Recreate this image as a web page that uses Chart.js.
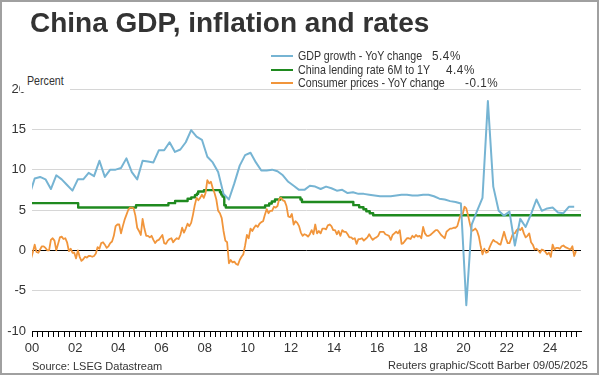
<!DOCTYPE html>
<html>
<head>
<meta charset="utf-8">
<script src="https://cdn.jsdelivr.net/npm/chart.js@4/dist/chart.umd.min.js"></script>
<style>
  body { margin: 0; background: #fff; }
  #wrap { position: relative; width: 600px; height: 376px; overflow: hidden; }
  #chart { position: absolute; left: 0; top: 0; }
  .txt { position: absolute; white-space: pre; color: #333; font-family: 'Liberation Sans', Arial, sans-serif; }
  #title { left: 30px; top: 9px; font-size: 28px; line-height: 28px; font-weight: bold; color: #333; }
  .narrow { font-size: 13px; line-height: 13px; transform: scaleX(0.82); transform-origin: 0 0; }
  .value { font-size: 13px; line-height: 13px; transform: scaleX(0.9); transform-origin: 0 0; letter-spacing: 0.6px; }
  .swatch { position: absolute; left: 271px; width: 22px; height: 0; }
  #percentBox { position: absolute; left: 20px; top: 70px; width: 50px; height: 22px; background: #fff; }
  #source { left: 32px; top: 361px; font-size: 11px; line-height: 11px; }
  #credit { right: 12px; top: 360px; font-size: 11px; line-height: 11px; }
  #frame { position: absolute; left: 0; top: 0; width: 599px; height: 375px; box-sizing: border-box; border: 2px solid #a0a0a0; pointer-events: none; }
</style>
</head>
<body>
<div id="wrap">
  <canvas id="chart" width="600" height="376"></canvas>
  <div id="percentBox"></div>
  <div class="txt narrow" style="left:27px; top:74px;">Percent</div>
  <div class="txt" id="title">China GDP, inflation and rates</div>
  <div id="legend"></div>
  <div class="txt" id="source">Source: LSEG Datastream</div>
  <div class="txt" id="credit">Reuters graphic/Scott Barber 09/05/2025</div>
  <div id="frame"></div>
</div>
<script>
// series labels and latest readings shown in the legend
const seriesNames = ['GDP growth - YoY change', 'China lending rate 6M to 1Y', 'Consumer prices - YoY change'];
const latestValues = ['5.4%', '4.4%', '-0.1%'];
const seriesColors = ['#76b4d3', '#1f8a1f', '#f1953b'];

// GDP, quarterly YoY %, starting 1999 Q4
const gdpStart = 1999.75;
const gdpValues = [
    6.8,
    8.9, 9.1, 8.8, 7.6,      // 2000
    9.3, 8.8, 8.1, 7.4,      // 2001
    8.8, 8.8, 9.6, 9.2,      // 2002
    11.1, 9.1, 10.0, 10.0,   // 2003
    10.2, 11.4, 9.7, 8.8,    // 2004
    11.1, 11.0, 10.9, 12.4,  // 2005
    12.4, 13.4, 12.2, 12.5,  // 2006
    13.4, 14.9, 14.1, 13.7,  // 2007
    11.6, 10.9, 9.7, 7.0,    // 2008
    6.3, 8.3, 10.5, 11.8,    // 2009
    12.1, 10.9, 9.9, 9.9,    // 2010
    10.0, 9.8, 9.3, 8.5,     // 2011
    8.0, 7.5, 7.5, 8.0,      // 2012
    7.9, 7.6, 7.9, 7.7,      // 2013
    7.4, 7.5, 7.1, 7.2,      // 2014
    7.0, 7.0, 6.9, 6.8,      // 2015
    6.7, 6.7, 6.7, 6.8,      // 2016
    6.9, 6.9, 6.8, 6.8,      // 2017
    6.9, 6.9, 6.7, 6.4,      // 2018
    6.3, 6.1, 6.0, 5.8,      // 2019
    -6.8, 3.2, 4.9, 6.5,     // 2020
    18.5, 7.9, 4.9, 4.3,     // 2021
    4.8, 0.6, 3.9, 2.9,      // 2022
    4.5, 6.3, 4.9, 5.2,      // 2023
    5.3, 4.7, 4.6, 5.4,      // 2024
    5.4                      // 2025
];

// Consumer prices, monthly YoY %, starting Dec 1999
const cpiStart = 1999 + 11 / 12;
const cpiValues = [
    -1.0,
    -0.2, 0.7, -0.2, -0.3, 0.1, 0.5, 0.5, 0.3, 0.0, 0.0, 1.3, 1.5,     // 2000
    1.2, 0.0, 0.8, 1.6, 1.7, 1.4, 1.5, 1.0, -0.1, 0.2, -0.3, -0.3,     // 2001
    -1.0, 0.0, -0.8, -1.3, -1.1, -0.8, -0.9, -0.7, -0.7, -0.8, -0.7, -0.4, // 2002
    0.4, 0.2, 0.9, 1.0, 0.7, 0.3, 0.5, 0.9, 1.1, 1.8, 3.0, 3.2,        // 2003
    3.2, 2.1, 3.0, 3.8, 4.4, 5.0, 5.3, 5.3, 5.2, 4.3, 2.8, 2.4,        // 2004
    1.9, 3.9, 2.7, 1.8, 1.8, 1.6, 1.8, 1.3, 0.9, 1.2, 1.3, 1.6,        // 2005
    1.9, 0.9, 0.8, 1.2, 1.4, 1.5, 1.0, 1.3, 1.5, 1.4, 1.9, 2.8,        // 2006
    2.2, 2.7, 3.3, 3.0, 3.4, 4.4, 5.6, 6.5, 6.2, 6.5, 6.9, 6.5,        // 2007
    7.1, 8.7, 8.3, 8.5, 7.7, 7.1, 6.3, 4.9, 4.6, 4.0, 2.4, 1.2,        // 2008
    1.0, -1.6, -1.2, -1.5, -1.4, -1.7, -1.8, -1.2, -0.8, -0.5, 0.6, 1.9, // 2009
    1.5, 2.7, 2.4, 2.8, 3.1, 2.9, 3.3, 3.5, 3.6, 4.4, 5.1, 4.6,        // 2010
    4.9, 4.9, 5.4, 5.3, 5.5, 6.4, 6.5, 6.2, 6.1, 5.5, 4.2, 4.1,        // 2011
    4.5, 3.2, 3.6, 3.4, 3.0, 2.2, 1.8, 2.0, 1.9, 1.7, 2.0, 2.5,        // 2012
    2.0, 3.2, 2.1, 2.4, 2.1, 2.7, 2.7, 2.6, 3.1, 3.2, 3.0, 2.5,        // 2013
    2.5, 2.0, 2.4, 1.8, 2.5, 2.3, 2.3, 2.0, 1.6, 1.6, 1.4, 1.5,        // 2014
    0.8, 1.4, 1.4, 1.5, 1.2, 1.4, 1.6, 2.0, 1.6, 1.3, 1.5, 1.6,        // 2015
    1.8, 2.3, 2.3, 2.3, 2.0, 1.9, 1.8, 1.3, 1.9, 2.1, 2.3, 2.1,        // 2016
    2.5, 0.8, 0.9, 1.2, 1.5, 1.5, 1.4, 1.8, 1.6, 1.9, 1.7, 1.8,        // 2017
    1.5, 2.9, 2.1, 1.8, 1.8, 1.9, 2.1, 2.3, 2.5, 2.5, 2.2, 1.9,        // 2018
    1.7, 1.5, 2.3, 2.5, 2.7, 2.7, 2.8, 2.8, 3.0, 3.8, 4.5, 4.5,        // 2019
    5.4, 5.2, 4.3, 3.3, 2.4, 2.5, 2.7, 2.4, 1.7, 0.5, -0.5, 0.2,       // 2020
    -0.3, -0.2, 0.4, 0.9, 1.3, 1.1, 1.0, 0.8, 0.7, 1.5, 2.3, 1.5,      // 2021
    0.9, 0.9, 1.5, 2.1, 2.1, 2.5, 2.7, 2.5, 2.8, 2.1, 1.6, 1.8,        // 2022
    2.1, 1.0, 0.7, 0.1, 0.2, 0.0, -0.3, 0.1, 0.0, -0.2, -0.5, -0.3,    // 2023
    -0.8, 0.7, 0.1, 0.3, 0.3, 0.2, 0.5, 0.6, 0.4, 0.3, 0.2, 0.1,       // 2024
    0.5, -0.7, -0.1                                                     // 2025
];

// Benchmark lending rate 6M-1Y: change dates (decimal years) and new level
const rateDates = [2000.0, 2002.14, 2004.82, 2006.32, 2006.63, 2007.21, 2007.38, 2007.55,
    2007.64, 2007.70, 2007.97, 2008.71, 2008.77, 2008.83, 2008.91, 2008.98, 2010.80,
    2010.99, 2011.11, 2011.26, 2011.51, 2012.44, 2012.51, 2014.89, 2015.16, 2015.36,
    2015.49, 2015.65, 2015.81, 2025.44];
const rateValues = [5.85, 5.31, 5.58, 5.85, 6.12, 6.39, 6.57, 6.84,
    7.02, 7.29, 7.47, 7.20, 6.93, 6.66, 5.58, 5.31, 5.56,
    5.81, 6.06, 6.31, 6.56, 6.31, 6.00, 5.60, 5.35, 5.10,
    4.85, 4.60, 4.35, 4.35];

// axis settings
const xMin = 2000, xMax = 2025.44;
const yMin = -10, yMax = 20, yStep = 5;
const xLabelEvery = 2;   // years between labels
const xTickEvery = 0.25; // quarterly tick marks

const TICK_FONT = { family: "'Liberation Sans', Arial, sans-serif", size: 13 };

function buildLegend() {
    const box = document.getElementById('legend');
    const rowTop = [49, 63, 76];
    const valueLeft = [432, 446, 465];
    const widths = [2, 2.6, 2];
    seriesNames.forEach((name, i) => {
        const sw = document.createElement('div');
        sw.className = 'swatch';
        sw.style.top = (rowTop[i] + 6) + 'px';
        sw.style.borderTop = widths[i] + 'px solid ' + seriesColors[i];
        box.appendChild(sw);
        const t = document.createElement('div');
        t.className = 'txt narrow';
        t.style.left = '298px';
        t.style.top = rowTop[i] + 'px';
        t.textContent = name;
        box.appendChild(t);
        const v = document.createElement('div');
        v.className = 'txt value';
        v.style.left = valueLeft[i] + 'px';
        v.style.top = rowTop[i] + 'px';
        v.textContent = latestValues[i];
        box.appendChild(v);
    });
}

const gdpPoints = gdpValues.map((v, i) => ({ x: gdpStart + i * 0.25 + 0.125, y: v }));
const cpiPoints = cpiValues.map((v, i) => ({ x: cpiStart + i / 12 + 1 / 24, y: v }));
const ratePoints = rateValues.map((v, i) => ({ x: rateDates[i], y: v }));

buildLegend();

const chart = new Chart(document.getElementById('chart').getContext('2d'), {
    type: 'line',
    data: {
        datasets: [
            { label: seriesNames[0], data: gdpPoints, borderColor: seriesColors[0], borderWidth: 2, order: 0 },
            { label: seriesNames[2], data: cpiPoints, borderColor: seriesColors[2], borderWidth: 1.8, order: 1 },
            { label: seriesNames[1], data: ratePoints, borderColor: seriesColors[1], borderWidth: 2.4, stepped: true, order: 2 }
        ]
    },
    options: {
        responsive: false,
        animation: false,
        parsing: false,
        elements: { point: { radius: 0 }, line: { tension: 0, borderJoinStyle: 'round' } },
        layout: { padding: { top: 89, right: 19, left: 0, bottom: 0 } },
        plugins: { legend: { display: false }, tooltip: { enabled: false } },
        scales: {
            x: {
                type: 'linear',
                min: xMin,
                max: xMax,
                afterBuildTicks: (axis) => {
                    const ticks = [];
                    for (let v = xMin; v <= xMax; v += xTickEvery) ticks.push({ value: v });
                    axis.ticks = ticks;
                },
                afterFit: (axis) => { axis.height = 45; },
                grid: { drawOnChartArea: false, drawTicks: true, tickLength: 6, color: '#000' },
                border: { display: true, color: '#000', width: 1 },
                ticks: {
                    autoSkip: false,
                    maxRotation: 0,
                    padding: 4,
                    color: '#333',
                    font: TICK_FONT,
                    callback: (v) => {
                        if (Number.isInteger(v) && v % xLabelEvery === 0) return String(v % 100).padStart(2, '0');
                        return '';
                    }
                }
            },
            y: {
                min: yMin,
                max: yMax,
                afterFit: (axis) => { axis.width = 32; },
                border: { display: false },
                grid: {
                    drawTicks: false,
                    color: (ctx) => ctx.tick && ctx.tick.value === 0 ? '#000' : '#d6d6d6',
                    lineWidth: 1
                },
                ticks: {
                    stepSize: yStep,
                    padding: 6,
                    color: '#333',
                    font: TICK_FONT
                }
            }
        }
    }
});
</script>
</body>
</html>
